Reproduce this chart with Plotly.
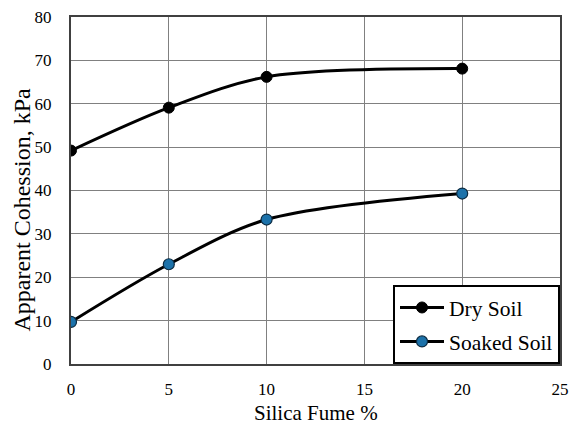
import plotly.graph_objects as go

silica_fume = [0, 5, 10, 20]
dry_soil = [49.2, 59.1, 66.2, 68.1]
soaked_soil = [9.7, 23.0, 33.3, 39.3]

FONT = "Times New Roman, Liberation Serif, DejaVu Serif, serif"

fig = go.Figure()
fig.add_trace(go.Scatter(
    x=silica_fume, y=dry_soil, name="Dry Soil", mode="lines+markers",
    line=dict(color="black", width=3, shape="spline", smoothing=0.9),
    marker=dict(color="black", size=11, line=dict(color="black", width=1)),
    legendgroup="a",
))
fig.add_trace(go.Scatter(
    x=silica_fume, y=soaked_soil, name="Soaked Soil", mode="lines+markers",
    line=dict(color="black", width=3, shape="spline", smoothing=0.9),
    marker=dict(color="#1c72aa", size=11, line=dict(color="#0b2a40", width=1.2)),
    legendgroup="b",
))

fig.update_layout(
    width=569, height=432,
    margin=dict(l=71, r=9, t=17, b=68, autoexpand=False),
    paper_bgcolor="white", plot_bgcolor="white",
    font=dict(family=FONT, size=17, color="black"),
    showlegend=True,
    legend=dict(
        x=1, y=0, xanchor="right", yanchor="bottom",
        bgcolor="white", bordercolor="black", borderwidth=2,
        font=dict(family=FONT, size=21.5, color="black"),
        tracegroupgap=3, itemwidth=44,
    ),
    xaxis=dict(
        range=[0, 25], tickvals=[0, 5, 10, 15, 20, 25],
        showgrid=True, gridcolor="#808080", gridwidth=1,
        showline=True, linecolor="#404040", linewidth=2, mirror=True,
        ticks="outside", ticklen=9, tickcolor="rgba(0,0,0,0)",
        zeroline=False, automargin=False,
    ),
    yaxis=dict(
        range=[0, 80], tickvals=[0, 10, 20, 30, 40, 50, 60, 70, 80],
        showgrid=True, gridcolor="#808080", gridwidth=1,
        showline=True, linecolor="#404040", linewidth=2, mirror=True,
        ticks="outside", ticklen=14, tickcolor="rgba(0,0,0,0)",
        zeroline=False, automargin=False,
    ),
    annotations=[
        dict(text="Silica Fume %", xref="paper", yref="paper", x=0.5, y=0,
             xanchor="center", yanchor="middle", yshift=-49, showarrow=False,
             font=dict(family=FONT, size=21)),
        dict(text="Apparent Cohession, kPa", xref="paper", yref="paper", x=0, y=0.445,
             xanchor="center", yanchor="middle", xshift=-49, textangle=-90, showarrow=False,
             font=dict(family=FONT, size=24)),
    ],
)

fig.write_html("out.html")
